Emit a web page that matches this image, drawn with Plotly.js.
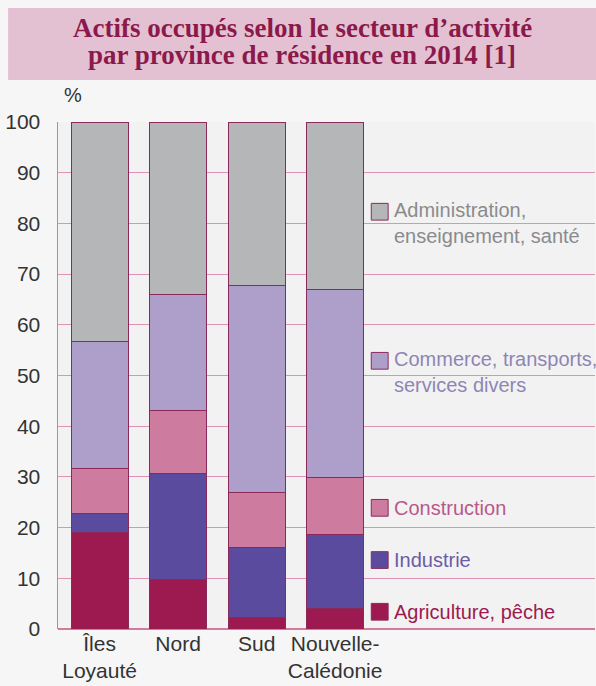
<!DOCTYPE html>
<html><head><meta charset="utf-8">
<script src="https://cdn.plot.ly/plotly-3.0.1.min.js"></script>
<style>html,body{margin:0;padding:0;background:#f6f6f6;}#chart{width:596px;height:686px;}</style>
</head><body><div id="chart"></div>
<script>
const categories = ['Îles<br>Loyauté', 'Nord', 'Sud', 'Nouvelle-<br>Calédonie'];
const seriesNames = ['Agriculture, pêche', 'Industrie', 'Construction', 'Commerce, transports,<br>services divers', 'Administration,<br>enseignement, santé'];
const agriculture = [19.0, 9.7, 2.2, 4.1];
const industrie = [3.7, 20.9, 13.8, 14.5];
const construction = [9.0, 12.4, 11.0, 11.2];
const commerce = [25.0, 23.0, 40.7, 37.1];
const administration = [43.3, 34.0, 32.3, 33.1];
const legendY = [3.4, 13.6, 23.9, 52.9, 82.3];
const yTicks = [0,10,20,30,40,50,60,70,80,90,100];
const titleLines = ['Actifs occupés selon le secteur d’activité', 'par province de résidence en 2014 [1]'];

const colors = ['#9d1a50', '#5b4b9e', '#cd7c9f', '#ad9fca', '#b4b6b8'];
const textColors = ['#9d1a50', '#6b5ca6', '#b9588b', '#8e85b5', '#8a8b8d'];
const values = [agriculture, industrie, construction, commerce, administration];
const xIdx = categories.map((c,i)=>i);
const sans = 'Liberation Sans, Arial, sans-serif';

const traces = values.map((v,k)=>({
  type:'bar', x:xIdx, y:v, name:seriesNames[k], width:0.726,
  marker:{color:colors[k], line:{color:'#8a2a5a', width:1}},
  hoverinfo:'skip'
}));

const shapes = [{
  type:'rect', xref:'paper', yref:'paper', x0:-0.093, x1:1.002, y0:1.0828, y1:1.225,
  fillcolor:'#e4c1d2', line:{width:0}, layer:'below'
}];
const annotations = [{
  xref:'paper', yref:'paper', x:0.008, y:1.028, xanchor:'left', yanchor:'bottom',
  text:'%', showarrow:false, font:{family:sans, size:20, color:'#333'}
}];
titleLines.forEach((t,i)=>{
  annotations.push({xref:'paper', yref:'paper', x:0.455, y:[1.185, 1.132][i], xanchor:'center', yanchor:'middle',
    text:'<b>'+t+'</b>', showarrow:false,
    font:{family:'Liberation Serif, Times New Roman, serif', size:27, color:'#8b1a4b'}});
});
seriesNames.forEach((n,k)=>{
  const yc = legendY[k];
  shapes.push({type:'rect', xref:'x', yref:'y', x0:3.46, x1:3.675, y0:yc-1.65, y1:yc+1.65,
    fillcolor:colors[k], line:{color:'#8a2a5a', width:1}});
  annotations.push({xref:'x', yref:'y', x:3.72, y:yc + (n.includes('<br>') ? -2.2 : 0),
    xanchor:'left', yanchor:'middle', align:'left', text:n, showarrow:false,
    font:{family:sans, size:20, color:textColors[k]}});
});

const layout = {
  width:596, height:686,
  margin:{l:58, r:1, t:122, b:57},
  paper_bgcolor:'#f6f6f6', plot_bgcolor:'#f2f2f2',
  barmode:'stack', showlegend:false,
  font:{family:sans, color:'#333'},
  xaxis:{range:[-0.53, 6.31], tickvals:xIdx, ticktext:categories, showgrid:false, zeroline:false,
    showline:false, ticks:'', tickfont:{size:21, color:'#333'}, fixedrange:true},
  yaxis:{range:[0,100], tickvals:yTicks, showgrid:true, gridcolor:'#dd93b3', gridwidth:1,
    zeroline:true, zerolinecolor:'#d27aa0', zerolinewidth:1.5,
    showline:true, linecolor:'#d27aa0', linewidth:1.5, ticks:'', ticklabelstandoff:12,
    tickfont:{size:21, color:'#333'}, fixedrange:true},
  shapes:shapes, annotations:annotations
};
Plotly.newPlot('chart', traces, layout, {displayModeBar:false, staticPlot:true});
</script></body></html>
